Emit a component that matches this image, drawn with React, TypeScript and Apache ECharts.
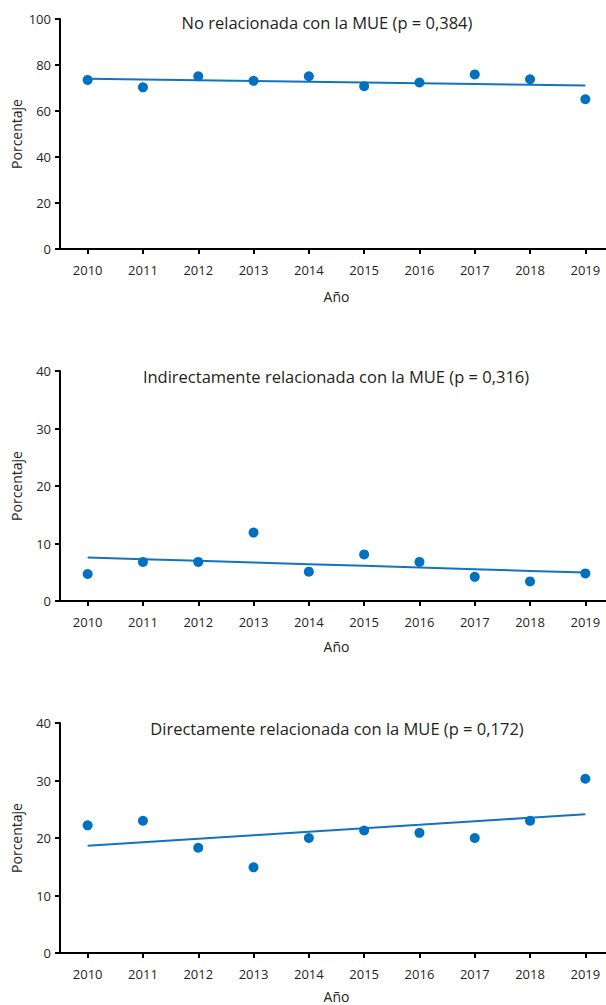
import React, { useEffect, useRef } from "react";
import * as echarts from "echarts";

const years = ["2010", "2011", "2012", "2013", "2014", "2015", "2016", "2017", "2018", "2019"];
const noRelacionada = [73.5, 70.3, 75.1, 73.1, 75.1, 70.8, 72.4, 75.9, 73.8, 65.1];
const indirecta = [4.7, 6.8, 6.8, 11.9, 5.1, 8.1, 6.8, 4.2, 3.4, 4.8];
const directa = [22.2, 23.0, 18.3, 14.9, 20.0, 21.3, 20.9, 20.0, 23.0, 30.3];
const titles = [
  "No relacionada con la MUE (p = 0,384)",
  "Indirectamente relacionada con la MUE (p = 0,316)",
  "Directamente relacionada con la MUE (p = 0,172)",
];
const yMaxes = [100, 40, 40];
const yIntervals = [20, 10, 10];
const panels = [noRelacionada, indirecta, directa];

function regression(vals: number[]): number[] {
  const n = vals.length;
  const xs = vals.map((_, i) => i);
  const mx = xs.reduce((a, b) => a + b, 0) / n;
  const my = vals.reduce((a, b) => a + b, 0) / n;
  let sxy = 0, sxx = 0;
  for (let i = 0; i < n; i++) {
    sxy += (xs[i] - mx) * (vals[i] - my);
    sxx += (xs[i] - mx) * (xs[i] - mx);
  }
  const b = sxy / sxx;
  return xs.map((x) => +(my + b * (x - mx)).toFixed(3));
}

const BLUE = "#0070c0";
const FONT = "'Open Sans', sans-serif";
const TEXT = "#231f20";

export default function App() {
  const ref = useRef<HTMLDivElement>(null);
  useEffect(() => {
    if (!ref.current) return;
    const chart = echarts.init(ref.current, null, { renderer: "svg" });
    const tops = [19, 371, 723];
    const plotH = 230;
    const left = 60;
    const right = 0;
    const titleX = [327, 336, 337];
    const titleY = [22, 376, 728];
    const xNameGaps = [40, 38, 36];

    const grid = tops.map((t) => ({
      left,
      right,
      top: t,
      height: plotH,
      containLabel: false,
      outerBoundsMode: "none",
    }));
    const xAxis = tops.map((_, i) => ({
      type: "category",
      gridIndex: i,
      data: years,
      boundaryGap: true,
      name: "Año",
      nameLocation: "middle",
      nameGap: xNameGaps[i],
      nameMoveOverlap: false,
      nameTextStyle: { fontFamily: FONT, fontSize: 14, color: TEXT },
      axisLine: { show: true, lineStyle: { color: "#000", width: 2 } },
      axisTick: { show: true, alignWithLabel: true, length: 5, lineStyle: { color: "#000", width: 2 } },
      axisLabel: { fontFamily: FONT, fontSize: 13, color: TEXT, margin: 14, interval: 0 },
      splitLine: { show: false },
    }));
    const yAxis = tops.map((_, i) => ({
      type: "value",
      gridIndex: i,
      min: 0,
      max: yMaxes[i],
      interval: yIntervals[i],
      name: "Porcentaje",
      nameLocation: "middle",
      nameGap: 37,
      nameMoveOverlap: false,
      nameTextStyle: { fontFamily: FONT, fontSize: 14, color: TEXT },
      axisLine: { show: true, lineStyle: { color: "#000", width: 2 } },
      axisTick: { show: true, length: 5, lineStyle: { color: "#000", width: 2 } },
      axisLabel: { fontFamily: FONT, fontSize: 13, color: TEXT, margin: 9 },
      splitLine: { show: false },
    }));
    const series: any[] = [];
    panels.forEach((vals, i) => {
      series.push({
        type: "line",
        xAxisIndex: i,
        yAxisIndex: i,
        data: regression(vals),
        showSymbol: false,
        symbol: "none",
        lineStyle: { color: "#1573bd", width: 2 },
        z: 2,
        silent: true,
      });
      series.push({
        type: "scatter",
        xAxisIndex: i,
        yAxisIndex: i,
        data: vals,
        symbol: "circle",
        symbolSize: 10,
        itemStyle: { color: BLUE, opacity: 1 },
        z: 3,
      });
    });
    const graphic = titles.map((t, i) => ({
      type: "text",
      x: titleX[i],
      y: titleY[i],
      style: {
        text: t,
        fontFamily: FONT,
        fontSize: 16.5,
        fill: TEXT,
        textAlign: "center",
        textVerticalAlign: "middle",
      },
    }));
    chart.setOption({
      animation: false,
      backgroundColor: "#ffffff",
      grid,
      xAxis,
      yAxis,
      series,
      graphic,
    });
    return () => chart.dispose();
  }, []);
  return (
    <div style={{ position: "absolute", left: 0, top: 0, width: 606, height: 1005, overflow: "hidden", background: "#fff" }}>
      <div ref={ref} style={{ width: 613, height: 1005 }} />
    </div>
  );
}
